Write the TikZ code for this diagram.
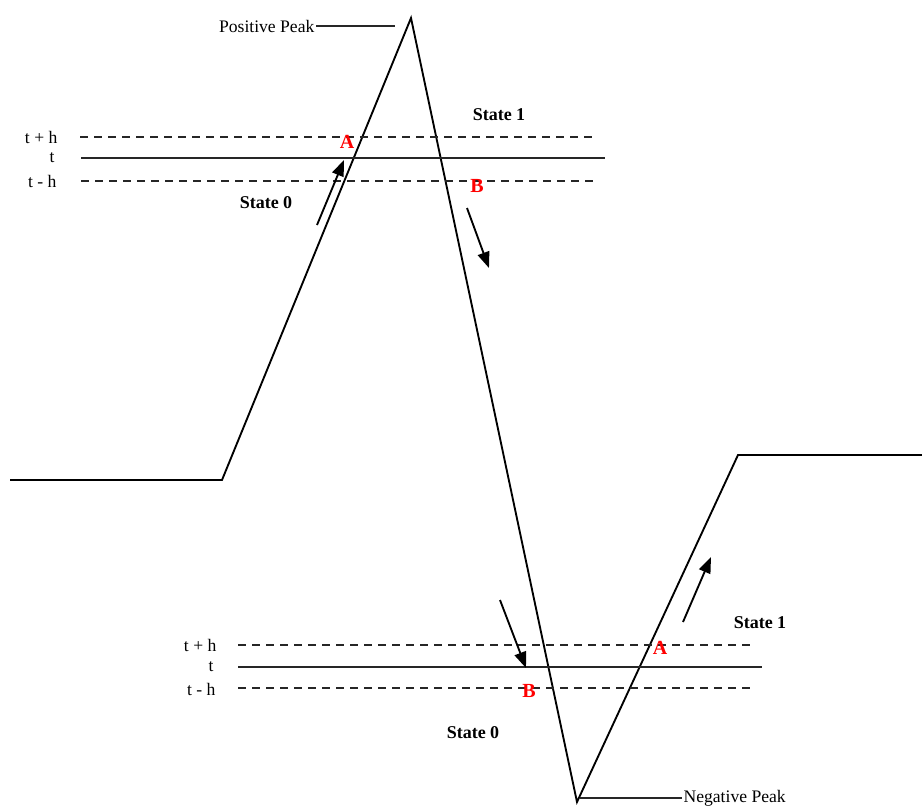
\documentclass[tikz,border=0pt]{standalone}
\usepackage{fontspec}
\setmainfont{Liberation Serif}
\usetikzlibrary{arrows.meta}
\begin{document}
\begin{tikzpicture}[x=0.75pt,y=-0.75pt,
  wave/.style={line width=1.4pt},
  thr/.style={line width=1.4pt, black!85},
  dsh/.style={line width=1.4pt, black!85, dash pattern=on 6pt off 4.5pt},
  lbl/.style={font=\fontsize{13.2}{15}\selectfont, inner sep=1pt},
  st/.style={font=\fontsize{13.5}{15}\selectfont\bfseries, inner sep=1pt},
  ptl/.style={font=\fontsize{15}{17}\selectfont\bfseries, text=red, inner sep=0pt},
  arr/.style={line width=1.4pt, -{Triangle[length=12pt,width=9pt]}}]
\useasboundingbox (0,0) rectangle (922,808);
% waveform corners
\coordinate (w0) at (10,480);
\coordinate (w1) at (222,480);
\coordinate (ppk) at (411,18);
\coordinate (npk) at (577,802);
\coordinate (w4) at (738,455);
\coordinate (w5) at (922,455);
\draw[wave] (w0) -- (w1) -- (ppk) -- (npk) -- (w4) -- (w5);

% top thresholds
\node[lbl, anchor=east] (tph1) at (59,137) {t + h};
\node[lbl, anchor=east] (tt1) at (56,158) {t};
\node[lbl, anchor=east] (tmh1) at (58,181) {t - h};
\coordinate (a1) at (80,137); \coordinate (a2) at (598,137);
\coordinate (b1) at (81,158); \coordinate (b2) at (605,158);
\coordinate (c1) at (81,181); \coordinate (c2) at (598,181);
\draw[dsh] (a1) -- (a2);
\draw[thr] (b1) -- (b2);
\draw[dsh] (c1) -- (c2);

% bottom thresholds
\node[lbl, anchor=east] (tph2) at (218,645) {t + h};
\node[lbl, anchor=east] (tt2) at (215,667) {t};
\node[lbl, anchor=east] (tmh2) at (217,689) {t - h};
\coordinate (d1) at (238,645); \coordinate (d2) at (755,645);
\coordinate (e1) at (238,667); \coordinate (e2) at (762,667);
\coordinate (f1) at (238,688); \coordinate (f2) at (755,688);
\draw[dsh] (d1) -- (d2);
\draw[thr] (e1) -- (e2);
\draw[dsh] (f1) -- (f2);

% peak labels
\node[lbl, anchor=east] (pp) at (316,26) {Positive Peak};
\coordinate (ppl) at (395,26);
\draw[thr] (pp.east) -- (ppl);
\node[lbl, anchor=west] (np) at (682,798) {Negative Peak};
\coordinate (npl) at (580,798);
\draw[thr] (npl) -- (np.west);

% state labels
\node[st] (s0a) at (266,203) {State 0};
\node[st] (s1a) at (499,115) {State 1};
\node[st] (s0b) at (473,733) {State 0};
\node[st] (s1b) at (760,623) {State 1};

% A / B markers
\node[ptl] (A1) at (347,142) {A};
\node[ptl] (B1) at (477,186) {B};
\node[ptl] (B2) at (529,691) {B};
\node[ptl] (A2) at (660,648) {A};

% direction arrows
\coordinate (r1s) at (317,225); \coordinate (r1e) at (344,160);
\coordinate (r2s) at (467,208); \coordinate (r2e) at (489,268);
\coordinate (r3s) at (500,600); \coordinate (r3e) at (526,668);
\coordinate (r4s) at (683,622); \coordinate (r4e) at (711,557);
\draw[arr] (r1s) -- (r1e);
\draw[arr] (r2s) -- (r2e);
\draw[arr] (r3s) -- (r3e);
\draw[arr] (r4s) -- (r4e);
\end{tikzpicture}
\end{document}
